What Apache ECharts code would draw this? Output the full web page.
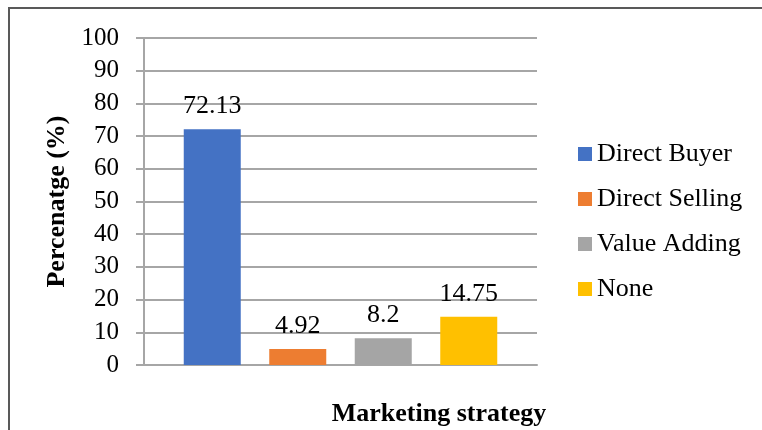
<!DOCTYPE html>
<html>
<head>
<meta charset="utf-8">
<script src="https://cdn.jsdelivr.net/npm/echarts@6/dist/echarts.min.js"></script>
<style>
  html, body { margin: 0; padding: 0; background: #fff; }
  #chart { width: 762px; height: 430px; }
</style>
</head>
<body>
<div id="chart"></div>
<script>
// Share of respondents by marketing strategy (%)
const categories = ['Marketing strategy'];
const strategies = ['Direct Buyer', 'Direct Selling', 'Value Adding', 'None'];
const percentages = [72.13, 4.92, 8.2, 14.75];
const strategyColors = ['#4472C4', '#ED7D31', '#A5A5A5', '#FFC000'];
const yTicks = [0, 10, 20, 30, 40, 50, 60, 70, 80, 90, 100];

const serif = 'Liberation Serif';
const chart = echarts.init(document.getElementById('chart'), null, { renderer: 'canvas' });

const series = strategies.map((name, i) => ({
  name: name,
  type: 'bar',
  data: [percentages[i]],
  barWidth: 57,
  barGap: '50%',
  itemStyle: { color: strategyColors[i] },
  label: {
    show: true,
    position: 'top',
    distance: 10,
    fontFamily: serif,
    fontSize: 26,
    color: '#000'
  }
}));

chart.setOption({
  animation: false,
  backgroundColor: '#fff',
  textStyle: { fontFamily: serif },
  grid: { left: 144, right: 225, top: 38, bottom: 65 },
  legend: {
    orient: 'vertical',
    left: 578,
    top: 141,
    padding: 0,
    itemWidth: 14,
    itemHeight: 14,
    itemGap: 19,
    icon: 'rect',
    data: strategies,
    textStyle: { fontFamily: serif, fontSize: 26, color: '#000' }
  },
  xAxis: {
    type: 'category',
    data: categories,
    axisLine: { lineStyle: { color: '#A6A6A6', width: 2 } },
    axisTick: { show: false },
    axisLabel: { show: false }
  },
  yAxis: {
    type: 'value',
    min: yTicks[0],
    max: yTicks[yTicks.length - 1],
    interval: yTicks[1] - yTicks[0],
    name: 'Percenatge (%)',
    nameLocation: 'middle',
    nameGap: 68,
    nameTextStyle: { fontFamily: serif, fontSize: 26, fontWeight: 'bold', color: '#000' },
    axisLine: { show: true, lineStyle: { color: '#A6A6A6', width: 2 } },
    axisTick: { show: true, inside: false, length: 8, lineStyle: { color: '#A6A6A6', width: 2 } },
    axisLabel: { margin: 25, fontFamily: serif, fontSize: 25, color: '#000' },
    splitLine: { show: true, lineStyle: { color: '#A6A6A6', width: 2 } }
  },
  graphic: [
    {
      type: 'rect',
      shape: { x: 9, y: 8, width: 820, height: 500 },
      style: { fill: 'none', stroke: '#595959', lineWidth: 2 },
      silent: true
    },
    {
      type: 'text',
      x: 439,
      y: 414,
      style: {
        text: 'Marketing strategy',
        fontFamily: serif,
        fontSize: 26,
        fontWeight: 'bold',
        fill: '#000',
        align: 'center',
        verticalAlign: 'middle'
      }
    }
  ],
  series: series
});
</script>
</body>
</html>
